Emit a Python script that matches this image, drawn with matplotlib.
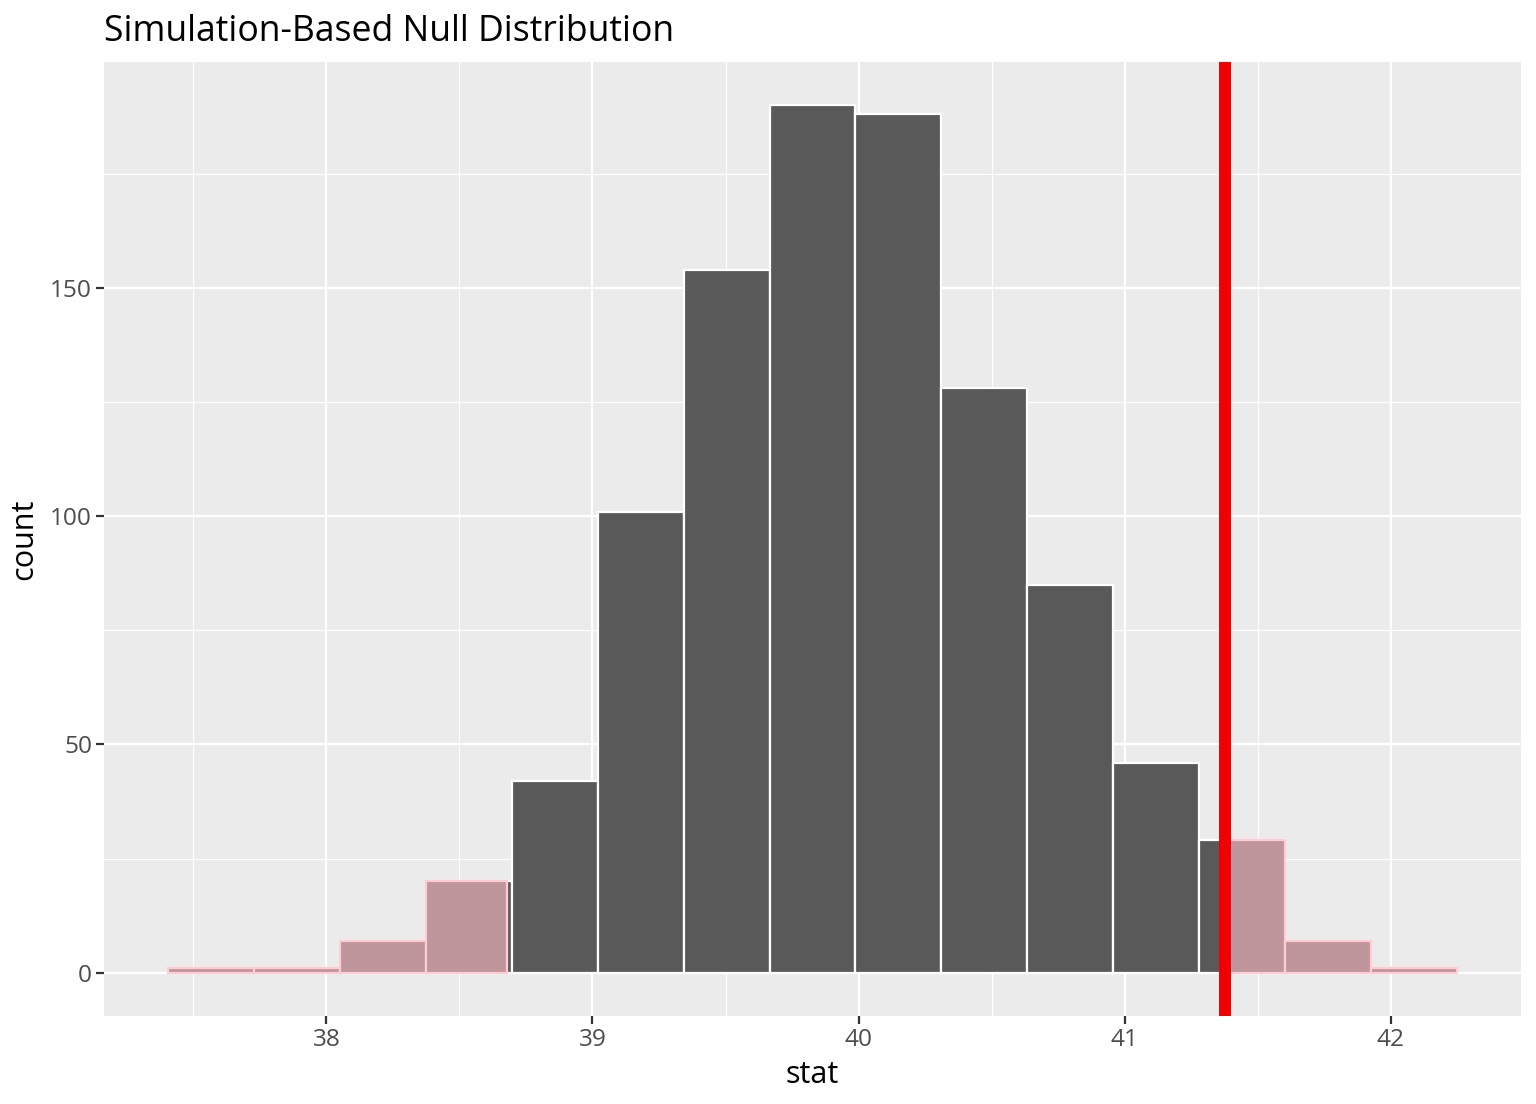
import matplotlib

matplotlib.use("Agg")
import matplotlib.pyplot as plt
import numpy as np

plt.rcParams["font.family"] = ["Open Sans", "DejaVu Sans"]

# histogram of the simulated null statistic (15 bins)
bin_lo = 37.406
bin_width = 0.3228
counts = [1, 1, 7, 20, 42, 101, 154, 190, 188, 128, 85, 46, 29, 7, 1]
obs_stat = 41.376
mirror_stat = 38.677  # two-sided: other tail boundary

x_ticks = [38, 39, 40, 41, 42]
y_ticks = [0, 50, 100, 150]

BG = "#EBEBEB"
DARK = "#595959"
SHADE = "#BE969B"
SHADE_EDGE = "#FFCCD4"

fig = plt.figure(figsize=(15.36, 11.04), dpi=100)
ax = fig.add_axes([104 / 1536, 88 / 1104, 1417 / 1536, 954 / 1104])
ax.set_facecolor(BG)

edges = bin_lo + bin_width * np.arange(len(counts) + 1)
lefts = edges[:-1]

ax.bar(lefts, counts, width=bin_width, align="edge", color=DARK,
       edgecolor="white", linewidth=1.6, zorder=2)

# shaded p-value region: re-draw the parts of the bars in each tail
for lo, hi, c in zip(edges[:-1], edges[1:], counts):
    for a, b in ((-np.inf, mirror_stat), (obs_stat, np.inf)):
        s, e = max(lo, a), min(hi, b)
        if e > s:
            ax.bar(s, c, width=e - s, align="edge", color=SHADE,
                   edgecolor=SHADE_EDGE, linewidth=1.6, zorder=3)

ax.axvline(obs_stat, color="#F00000", linewidth=8.6, zorder=4)

span = edges[-1] - edges[0]
ax.set_xlim(edges[0] - 0.05 * span, edges[-1] + 0.05 * span)
ymax = max(counts)
ax.set_ylim(-0.05 * ymax, 1.05 * ymax)

ax.set_xticks(x_ticks)
ax.set_xticks([t + 0.5 for t in x_ticks[:-1]] + [x_ticks[0] - 0.5], minor=True)
ax.set_yticks(y_ticks)
ax.set_yticks([t + 25 for t in y_ticks], minor=True)
ax.grid(which="major", color="white", linewidth=1.6, zorder=0)
ax.grid(which="minor", color="white", linewidth=0.8, zorder=0)
ax.set_axisbelow(True)
for sp in ax.spines.values():
    sp.set_visible(False)

ax.tick_params(which="major", length=5.5, width=1.6, color="#333333",
               labelsize=17.6, labelcolor="#4D4D4D", pad=3)
ax.tick_params(which="minor", length=0)

ax.set_xlabel("stat", fontsize=22, color="black", labelpad=6)
ax.set_ylabel("count", fontsize=22, color="black", labelpad=8)
ax.set_title("Simulation-Based Null Distribution", fontsize=25.6, loc="left",
             color="black", pad=15)

fig.savefig("out.png", dpi=100)
